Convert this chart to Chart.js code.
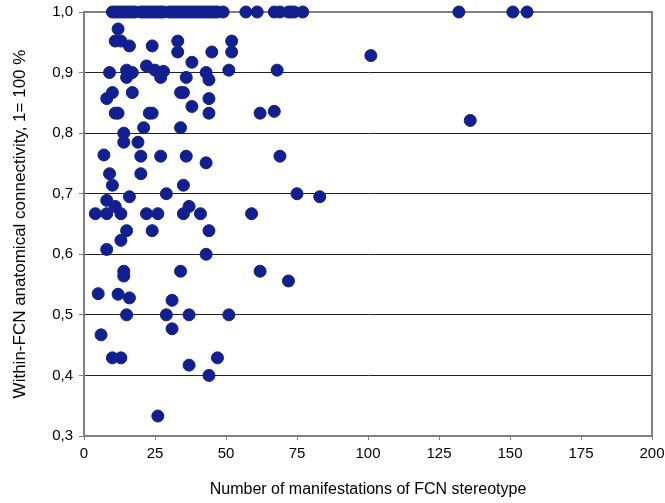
<!DOCTYPE html>
<html>
<head>
<meta charset="utf-8">
<script src="https://cdn.jsdelivr.net/npm/chart.js@4"></script>
<style>
  html, body { margin: 0; padding: 0; background: #fff; }
  #wrap { width: 665px; height: 503px; }
</style>
</head>
<body>
<div id="wrap"><canvas id="chart"></canvas></div>
<script>
// manifestations (x) and connectivity (y)
const manifestations = [
  10, 11, 12, 13, 14, 15, 16, 17, 18, 20, 21, 22, 23, 24, 25, 26, 27, 28, 30, 31,
  32, 33, 34, 35, 36, 37, 38, 39, 40, 41, 42, 43, 44, 45, 46, 47, 49,
  57, 61, 67, 69, 72, 73, 74, 77, 132, 151, 156,
  12, 11, 13, 16, 24, 33, 33, 38, 45, 52, 52, 51, 9, 15, 17, 15, 22, 25, 28, 27,
  36, 43, 44, 68, 10, 8, 17, 34, 35, 44, 38, 11, 12, 23, 24, 44, 62, 67, 21, 34,
  14, 14, 19, 7, 20, 27, 36, 69, 43, 101, 136,
  9, 20, 10, 35, 16, 29, 8, 11, 37, 4, 8, 13, 22, 26, 35, 41, 59, 75, 83,
  15, 24, 44, 13, 8, 43, 14, 14, 34, 62, 72,
  5, 12, 16, 31, 15, 29, 37, 51, 6, 31, 10, 13, 47, 37, 44, 26
];
const connectivity = [
  1, 1, 1, 1, 1, 1, 1, 1, 1, 1, 1, 1, 1, 1, 1, 1, 1, 1, 1, 1,
  1, 1, 1, 1, 1, 1, 1, 1, 1, 1, 1, 1, 1, 1, 1, 1, 1,
  1, 1, 1, 1, 1, 1, 1, 1, 1, 1, 1,
  0.972, 0.952, 0.952, 0.944, 0.944, 0.952, 0.934, 0.917, 0.934, 0.952, 0.934, 0.904, 0.900, 0.904, 0.900, 0.892, 0.911, 0.904, 0.902, 0.892,
  0.892, 0.900, 0.888, 0.904, 0.867, 0.857, 0.867, 0.867, 0.867, 0.857, 0.844, 0.833, 0.833, 0.833, 0.833, 0.833, 0.833, 0.836, 0.809, 0.809,
  0.800, 0.785, 0.785, 0.764, 0.762, 0.762, 0.762, 0.762, 0.751, 0.928, 0.821,
  0.733, 0.733, 0.714, 0.714, 0.695, 0.700, 0.689, 0.679, 0.679, 0.667, 0.667, 0.667, 0.667, 0.667, 0.667, 0.667, 0.667, 0.700, 0.695,
  0.639, 0.639, 0.639, 0.623, 0.608, 0.600, 0.572, 0.564, 0.572, 0.572, 0.556,
  0.535, 0.534, 0.528, 0.524, 0.500, 0.500, 0.500, 0.500, 0.467, 0.477, 0.429, 0.429, 0.429, 0.417, 0.400, 0.333
];
const xTicks = [0, 25, 50, 75, 100, 125, 150, 175, 200];
const yTicks = [0.3, 0.4, 0.5, 0.6, 0.7, 0.8, 0.9, 1.0];

const points = manifestations.map((x, i) => ({ x, y: connectivity[i] }));
const family = '"Liberation Sans", Arial, sans-serif';

// top and right edges of the plot area
const frame = {
  id: 'frame',
  beforeDatasetsDraw(chart) {
    const { ctx, chartArea: a } = chart;
    ctx.save();
    ctx.strokeStyle = '#808080';
    ctx.lineWidth = 2;
    ctx.beginPath();
    ctx.moveTo(a.left, a.top);
    ctx.lineTo(a.right, a.top);
    ctx.lineTo(a.right, a.bottom);
    ctx.stroke();
    ctx.restore();
  }
};

new Chart(document.getElementById('chart'), {
  type: 'scatter',
  data: {
    datasets: [{
      data: points,
      backgroundColor: '#111f8f',
      borderColor: '#111f8f',
      pointRadius: 6,
      pointHoverRadius: 6,
      clip: false
    }]
  },
  options: {
    responsive: true,
    maintainAspectRatio: false,
    animation: false,
    layout: { padding: { top: 12, right: 13, left: 0, bottom: 0 } },
    plugins: { legend: { display: false }, tooltip: { enabled: false } },
    scales: {
      x: {
        type: 'linear',
        min: 0,
        max: 200,
        afterBuildTicks: s => { s.ticks = xTicks.map(v => ({ value: v })); },
        afterFit: s => { s.height = 67; s.paddingLeft = 0; s.paddingRight = 0; },
        ticks: { color: '#000', font: { family, size: 15 }, padding: 5 },
        grid: { drawOnChartArea: false, tickLength: 4, tickColor: '#808080', tickWidth: 1 },
        border: { color: '#808080', width: 2 },
        title: {
          display: true,
          text: 'Number of manifestations of FCN stereotype',
          color: '#000',
          font: { family, size: 16 },
          padding: { top: 0, bottom: 4 }
        }
      },
      y: {
        type: 'linear',
        min: 0.3,
        max: 1.0,
        afterBuildTicks: s => { s.ticks = yTicks.map(v => ({ value: v })); },
        afterFit: s => { s.width = 84; s.paddingTop = 0; s.paddingBottom = 0; },
        ticks: {
          color: '#000',
          font: { family, size: 15 },
          padding: 6,
          callback: v => v.toFixed(1).replace('.', ',')
        },
        grid: { color: '#222', lineWidth: 1, tickLength: 5, tickColor: '#808080' },
        border: { color: '#808080', width: 2 },
        title: {
          display: true,
          text: 'Within-FCN anatomical connectivity, 1= 100 %',
          color: '#000',
          font: { family, size: 17 },
          padding: { top: 10, bottom: 0 }
        }
      }
    }
  },
  plugins: [frame]
});
</script>
</body>
</html>
